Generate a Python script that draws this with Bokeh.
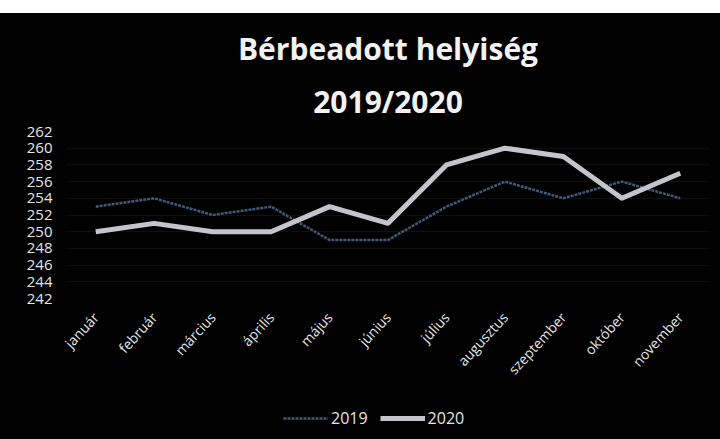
from bokeh.plotting import figure
from bokeh.models import FixedTicker, Legend, LegendItem, Title, Spacer, Range1d, FactorRange
from bokeh.layouts import column
from bokeh.embed import file_html
from bokeh.resources import INLINE

months = ["január", "február", "március", "április", "május", "június",
          "július", "augusztus", "szeptember", "október", "november"]
y2019 = [253, 254, 252, 253, 249, 249, 253, 256, 254, 256, 254]
y2020 = [250, 251, 250, 250, 253, 251, 258, 260, 259, 254, 257]
y_ticks = [242, 244, 246, 248, 250, 252, 254, 256, 258, 260, 262]
series_names = ["2019", "2020"]
title_lines = ["Bérbeadott helyiség", "2019/2020"]

FONT = "Open Sans"
TXT = "#e6e6e6"
STYLE19 = dict(line_color="#3d5b7c", line_width=2.5, line_dash="3 1")
STYLE20 = dict(line_color="#c4c4cc", line_width=5, line_join="round")

p = figure(x_range=months, y_range=(y_ticks[0], y_ticks[-1]),
           width=720, height=382, output_backend="svg", toolbar_location=None,
           background_fill_color="#000000", border_fill_color="#000000",
           min_border_left=66, min_border_right=11, min_border_top=118,
           min_border_bottom=97)
p.outline_line_color = None

p.line(months, y2019, **STYLE19)
p.line(months, y2020, **STYLE20)

p.yaxis.ticker = FixedTicker(ticks=y_ticks)
for ax in (p.xaxis[0], p.yaxis[0]):
    ax.axis_line_color = None
    ax.major_tick_line_color = None
    ax.minor_tick_line_color = None
    ax.major_tick_out = 0
    ax.major_label_text_color = TXT
    ax.major_label_text_font = FONT
p.yaxis.major_label_text_font_size = "15px"
p.xaxis.major_label_text_font_size = "14px"
p.xaxis.major_label_orientation = 0.83
p.xaxis.major_label_standoff = 16
p.yaxis.major_label_standoff = 14

p.xgrid.grid_line_color = None
p.ygrid.grid_line_color = "#101010"

p.add_layout(Title(text=title_lines[1], align="center", standoff=20,
                   text_color="#f2f2f2", text_font=FONT, text_font_size="30px",
                   text_font_style="bold"), "above")
p.add_layout(Title(text=title_lines[0], align="center", standoff=0,
                   text_color="#f2f2f2", text_font=FONT, text_font_size="30px",
                   text_font_style="bold"), "above")

# legend strip below the chart (same series, outside its y window)
p2 = figure(x_range=FactorRange(*months), y_range=Range1d(0, 1),
            width=720, height=44, output_backend="svg", toolbar_location=None,
            x_axis_type=None, y_axis_type=None,
            background_fill_color="#000000", border_fill_color="#000000",
            min_border=0)
p2.outline_line_color = None
p2.xgrid.grid_line_color = None
p2.ygrid.grid_line_color = None
r19 = p2.line(months, y2019, **STYLE19)
r20 = p2.line(months, y2020, **STYLE20)
legend = Legend(items=[LegendItem(label=series_names[0], renderers=[r19]),
                       LegendItem(label=series_names[1], renderers=[r20])],
                orientation="horizontal", location=(217, 10),
                background_fill_alpha=0, border_line_color=None,
                label_text_color=TXT, label_text_font=FONT,
                label_text_font_size="16px", glyph_width=45,
                label_standoff=3, spacing=12, padding=8, margin=0)
p2.add_layout(legend, "center")

layout = column(Spacer(height=13, width=720, styles={"background-color": "#ffffff"}),
                p, p2, styles={"background-color": "#000000"})
open("out.html", "w").write(file_html(layout, INLINE))
